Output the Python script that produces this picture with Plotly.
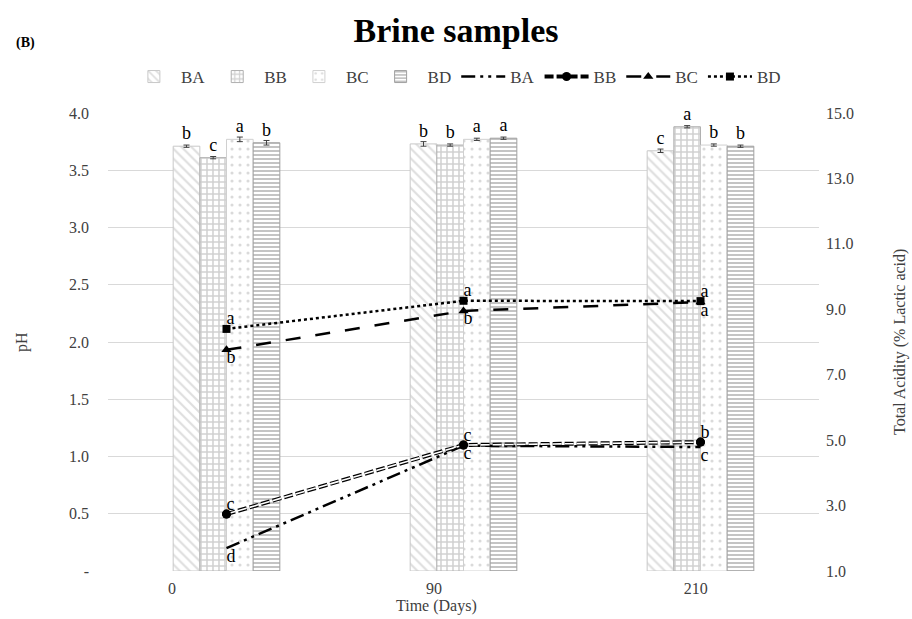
import plotly.graph_objects as go

# ---------------- data ----------------
days = ["0", "90", "210"]
series = ["BA", "BB", "BC", "BD"]

ph_BA = [3.71, 3.73, 3.67]
ph_BB = [3.61, 3.72, 3.88]
ph_BC = [3.77, 3.77, 3.72]
ph_BD = [3.74, 3.78, 3.71]
ph_err_BA = [0.01, 0.02, 0.015]
ph_err_BB = [0.01, 0.01, 0.01]
ph_err_BC = [0.02, 0.01, 0.01]
ph_err_BD = [0.02, 0.01, 0.01]
ph_letters_BA = ["b", "b", "c"]
ph_letters_BB = ["c", "b", "a"]
ph_letters_BC = ["a", "a", "b"]
ph_letters_BD = ["b", "a", "b"]

ta_BA = [1.70, 4.83, 4.79]
ta_BB = [2.74, 4.85, 4.94]
ta_BC = [7.76, 8.95, 9.22]
ta_BD = [8.40, 9.26, 9.25]
ta_letters_BA = ["d", "c", "c"]
ta_letters_BB = ["c", "c", "b"]
ta_letters_BC = ["b", "b", "a"]
ta_letters_BD = ["a", "a", "a"]

ph_tickvals = [0, 0.5, 1.0, 1.5, 2.0, 2.5, 3.0, 3.5, 4.0]
ph_ticktext = ["-", "0.5", "1.0", "1.5", "2.0", "2.5", "3.0", "3.5", "4.0"]
ta_tickvals = [1, 3, 5, 7, 9, 11, 13, 15]

FONT = "Liberation Serif"
GREY = "#404040"

fig = go.Figure()

bar_styles = {
    "BA": dict(shape="\\", fg="#bdbdbd", size=7, sol=0.3, line="#c8c8c8"),
    "BB": dict(shape="+", fg="#a3a3a3", size=6, sol=0.45, line="#b0b0b0"),
    "BC": dict(shape=".", fg="#b5b5b5", size=8, sol=0.12, line="#d0d0d0"),
    "BD": dict(shape="-", fg="#555555", size=4, sol=0.35, line="#a0a0a0"),
}
ph_vals = {"BA": ph_BA, "BB": ph_BB, "BC": ph_BC, "BD": ph_BD}
ph_errs = {"BA": ph_err_BA, "BB": ph_err_BB, "BC": ph_err_BC, "BD": ph_err_BD}
ph_lets = {"BA": ph_letters_BA, "BB": ph_letters_BB, "BC": ph_letters_BC, "BD": ph_letters_BD}

for s in series:
    st = bar_styles[s]
    fig.add_trace(go.Bar(
        x=days, y=ph_vals[s], name=s,
        marker=dict(color="white",
                    line=dict(color=st["line"], width=1),
                    pattern=dict(shape=st["shape"], fgcolor=st["fg"], bgcolor="white",
                                 size=st["size"], solidity=st["sol"], fillmode="overlay")),
        error_y=dict(type="data", array=ph_errs[s], color=GREY, thickness=1, width=3),
        text=ph_lets[s], textposition="outside", cliponaxis=False,
        textfont=dict(family=FONT, size=18, color="black"),
        xaxis="x", yaxis="y",
    ))

# ---- total acidity lines (secondary axis) ----
fig.add_trace(go.Scatter(
    x=days, y=ta_BA, name="BA", mode="lines",
    line=dict(color="black", width=2.5, dash="14px,5px,3px,5px,3px,5px"),
    xaxis="x", yaxis="y2",
))
fig.add_trace(go.Scatter(
    x=days, y=ta_BB, name="BB", mode="lines+markers",
    line=dict(color="black", width=4, dash="9px,3px"),
    marker=dict(symbol="circle", size=9, color="black"),
    xaxis="x", yaxis="y2",
))
fig.add_trace(go.Scatter(
    x=days, y=ta_BB, mode="lines", showlegend=False, hoverinfo="skip",
    line=dict(color="white", width=1.6, dash="9px,3px"),
    xaxis="x", yaxis="y2",
))
fig.add_trace(go.Scatter(
    x=days, y=ta_BB, mode="markers", showlegend=False, hoverinfo="skip",
    marker=dict(symbol="circle", size=9, color="black"),
    xaxis="x", yaxis="y2",
))
fig.add_trace(go.Scatter(
    x=days, y=ta_BC, name="BC", mode="lines+markers",
    line=dict(color="black", width=2.5, dash="longdash"),
    marker=dict(symbol="triangle-up", size=9, color="black"),
    xaxis="x", yaxis="y2",
))
fig.add_trace(go.Scatter(
    x=days, y=ta_BD, name="BD", mode="lines+markers",
    line=dict(color="black", width=2.5, dash="dot"),
    marker=dict(symbol="square", size=8, color="black"),
    xaxis="x", yaxis="y2",
))

# letters on lines
letter_sets = [
    (ta_BA, ta_letters_BA, "bottom right"),
    (ta_BB, ta_letters_BB, "top right"),
    (ta_BC, ta_letters_BC, "bottom right"),
    (ta_BD, ta_letters_BD, "top right"),
]
for vals, lets, pos in letter_sets:
    fig.add_trace(go.Scatter(
        x=days, y=vals, mode="text", text=lets, textposition=pos,
        textfont=dict(family=FONT, size=18, color="black"),
        showlegend=False, hoverinfo="skip", cliponaxis=False,
        xaxis="x", yaxis="y2",
    ))

# invisible trace carrying the day tick labels axis
fig.add_trace(go.Scatter(x=[0, 1, 2], y=[0, 0, 0], mode="markers",
                         marker=dict(opacity=0), showlegend=False, hoverinfo="skip",
                         xaxis="x2", yaxis="y"))

fig.update_layout(
    width=912, height=619,
    paper_bgcolor="white", plot_bgcolor="white",
    margin=dict(l=108, r=93, t=113, b=48, autoexpand=False),
    font=dict(family=FONT, size=16, color=GREY),
    barmode="group", bargap=0.55, bargroupgap=0,
    title=dict(text="<b>Brine samples</b>", x=0.5, xanchor="center",
               y=1 - 30 / 619, yanchor="middle", yref="container", pad=dict(t=0, b=0),
               font=dict(family=FONT, size=34, color="black")),
    showlegend=True,
    legend=dict(orientation="h", x=0.49, xanchor="center", yref="container",
                y=1 - 77 / 619, yanchor="middle",
                font=dict(family=FONT, size=17, color=GREY),
                traceorder="normal", itemwidth=44, bgcolor="rgba(0,0,0,0)"),
    xaxis=dict(type="category", range=[-0.5, 2.5], showticklabels=False, showgrid=False,
               zeroline=False, showline=False, ticks="", automargin=False),
    xaxis2=dict(overlaying="x", anchor="y", range=[-0.244, 2.47], tickvals=[0, 1, 2],
                ticktext=days, showgrid=False, zeroline=False, showline=False, ticks="",
                side="bottom", automargin=False, ticklabelstandoff=6,
                tickfont=dict(family=FONT, size=16, color=GREY)),
    yaxis=dict(range=[0, 4.0], tickvals=ph_tickvals, ticktext=ph_ticktext,
               showgrid=True, gridcolor="#d9d9d9", gridwidth=1, zeroline=False,
               showline=False, ticks="", ticklabelstandoff=18, automargin=False,
               tickfont=dict(family=FONT, size=16, color=GREY)),
    yaxis2=dict(range=[1, 15], tickvals=ta_tickvals, tickformat=".1f", overlaying="y",
                side="right", showgrid=False, zeroline=False, showline=False, ticks="",
                ticklabelstandoff=6, automargin=False,
                tickfont=dict(family=FONT, size=16, color=GREY)),
    annotations=[
        dict(text="<b>(B)</b>", x=(25 - 108) / 711, y=(571 - 43) / 458, xref="paper", yref="paper",
             xanchor="center", yanchor="middle", showarrow=False,
             font=dict(family=FONT, size=14, color="black")),
        dict(text="Time (Days)", xref="paper", yref="paper", x=(436 - 108) / 711,
             y=-(606 - 571) / 458, xanchor="center", yanchor="middle", showarrow=False,
             font=dict(family=FONT, size=16, color=GREY)),
        dict(text="pH", xref="paper", yref="paper", x=(22 - 108) / 711, y=0.5,
             xanchor="center", yanchor="middle", textangle=-90, showarrow=False,
             font=dict(family=FONT, size=16, color=GREY)),
        dict(text="Total Acidity (% Lactic acid)", xref="paper", yref="paper",
             x=(900 - 108) / 711, y=0.5, xanchor="center", yanchor="middle",
             textangle=-90, showarrow=False,
             font=dict(family=FONT, size=16, color=GREY)),
    ],
)

fig.write_html("out.html", config={"displayModeBar": False},
               post_script="document.body.style.margin='0';document.body.style.padding='0';")
